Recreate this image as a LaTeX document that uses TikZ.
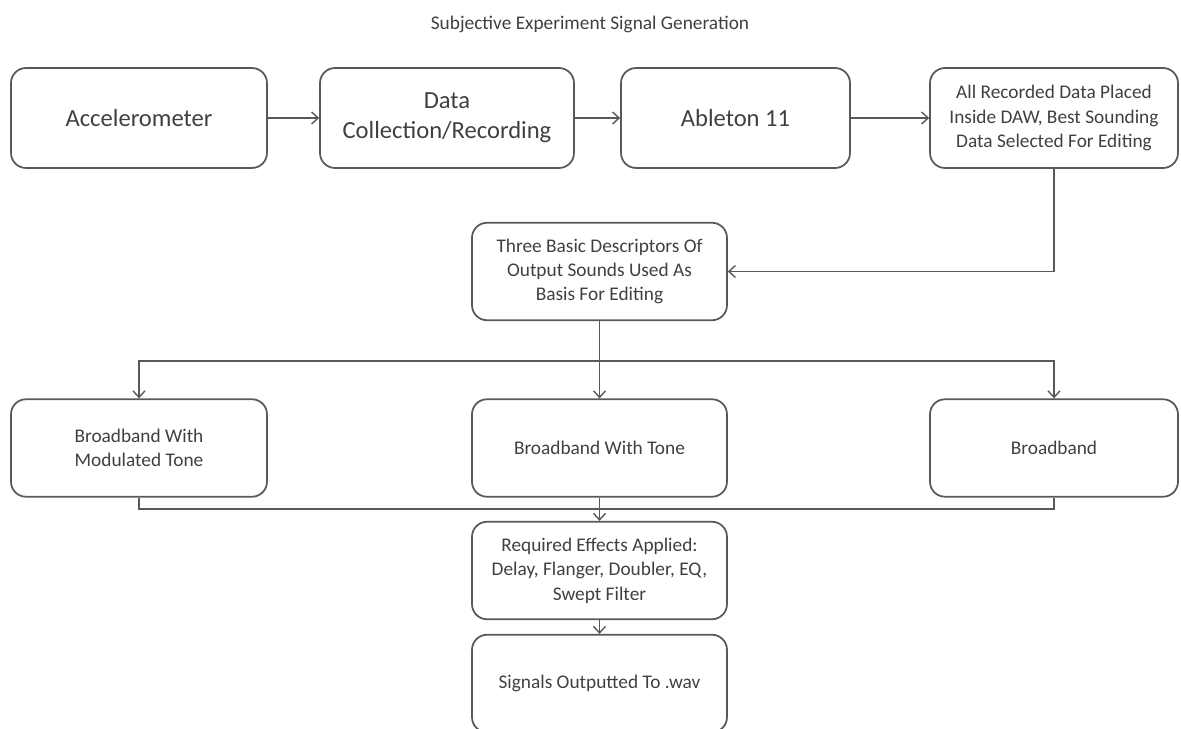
\documentclass[tikz,border=0pt]{standalone}
\usepackage{fontspec}
\setmainfont{Carlito}
\usetikzlibrary{arrows.meta,positioning}
\definecolor{traitGris}{RGB}{89,89,89}
\definecolor{texteGris}{RGB}{64,64,64}

\begin{document}
\begin{tikzpicture}[x=0.02cm,y=-0.02cm,
    bloc/.style={draw=traitGris,line width=1pt,rounded corners=0.3cm,
      align=center,inner sep=0.1cm,text=texteGris,
      font=\fontsize{11}{13.9}\selectfont,minimum height=1.95cm},
    grand/.style={bloc,minimum height=2cm,font=\fontsize{14}{17}\selectfont},
    fleche/.style={-{Straight Barb[length=1.3mm,width=2.4mm]},
      traitGris,line width=0.8pt},
    lien/.style={traitGris,line width=0.8pt}
  ]
  \useasboundingbox (0,0) rectangle (1181,729);

  \node[text=texteGris,font=\fontsize{11}{13}\selectfont] (titre) at (590,24)
    {Subjective Experiment Signal Generation};

  % première rangée : de l'acquisition au logiciel
  \node[grand,minimum width=5.12cm] (acc) at (139,118) {Accelerometer};
  \node[grand,minimum width=5.08cm] (rec) at (447,118) {Data\\Collection/Recording};
  \node[grand,minimum width=4.58cm] (abl) at (735.5,118) {Ableton 11};
  \node[bloc,minimum width=4.96cm,minimum height=2cm] (daw) at (1054,118)
    {All Recorded Data Placed\\Inside DAW, Best Sounding\\Data Selected For Editing};

  \node[bloc,minimum width=5.1cm] (desc) at (599.5,271.5)
    {Three Basic Descriptors Of\\Output Sounds Used As\\Basis For Editing};

  % les trois variantes de signal
  \node[bloc,minimum width=5.12cm] (mod) at (139,448) {Broadband With\\Modulated Tone};
  \node[bloc,minimum width=5.1cm] (tone) at (599.5,448) {Broadband With Tone};
  \node[bloc,minimum width=4.96cm] (bb) at (1054,448) {Broadband};

  \node[bloc,minimum width=5.1cm] (fx) at (599.5,570.5)
    {Required Effects Applied:\\Delay, Flanger, Doubler, EQ,\\Swept Filter};
  \node[bloc,minimum width=5.1cm] (wav) at (599.5,683.5) {Signals Outputted To .wav};

  \draw[fleche] (acc) -- (rec);
  \draw[fleche] (rec) -- (abl);
  \draw[fleche] (abl) -- (daw);
  \draw[fleche] (daw.south) |- (desc.east);

  \coordinate (fourche) at (599.5,361);
  \coordinate (jonction) at (599.5,509);
  \draw[fleche] (desc) -- (tone);
  \draw[fleche] (fourche) -| (mod);
  \draw[fleche] (fourche) -| (bb);

  \draw[lien] (mod.south) |- (jonction);
  \draw[lien] (bb.south) |- (jonction);
  \draw[fleche] (tone) -- (fx);
  \draw[fleche] (fx) -- (wav);
\end{tikzpicture}
\end{document}
